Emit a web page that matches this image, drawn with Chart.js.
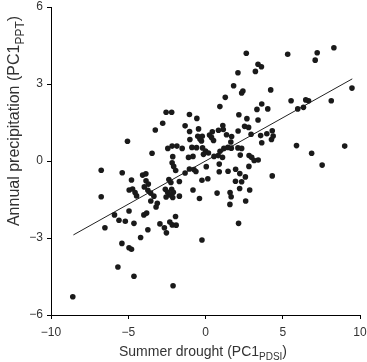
<!DOCTYPE html>
<html>
<head>
<meta charset="utf-8">
<script src="https://cdn.jsdelivr.net/npm/chart.js@4/dist/chart.umd.min.js"></script>
<style>
  body { margin: 0; background: #fff; }
  canvas { display: block; }
</style>
</head>
<body>
<canvas id="scatterChart" width="367" height="362"></canvas>
<script>
// Summer drought (PC1 PDSI) vs annual precipitation (PC1 PPT)
const drought = [
  2.64, 5.32, 7.23, 8.31, 7.10, 3.40, 3.62, 2.10, 3.23, 1.82,
  2.42, 2.34, 4.22, 1.28, 9.48, 0.93, 3.64, 5.54, 6.49, 6.67,
  8.14, 3.33, 4.03, 5.97, 6.34, -2.55, -2.19, -1.04, -0.56, 2.16,
  2.68, 3.40, -2.77, -1.32, -3.25, -1.03, -0.45, 0.44, 0.84, 1.12,
  1.15, 2.53, 2.79, 2.95, 2.11, 3.57, 3.97, 4.32, 4.38, 4.27,
  3.64, -0.50, -0.21, -0.36, -0.26, 0.26, 0.39, 0.52, 1.36, 1.69,
  1.64, -1.01, -5.05, 1.45, 1.67, 2.10, 2.34, -0.88, -0.58, -0.19,
  0.00, 0.19, -0.13, 0.94, 1.19, 0.55, 0.82, 1.10, -1.10, -0.81,
  0.89, 2.25, 2.82, 2.99, 3.15, 3.41, 2.81, 5.89, 6.87, 9.01,
  7.55, -2.44, -2.16, -1.85, -1.51, -3.46, -2.12, -1.32, -1.04, -0.75,
  -0.62, 0.05, 0.89, 1.46, 1.95, 2.22, 2.58, 4.32, -0.23, 0.15,
  1.94, 2.34, 2.21, 2.86, -0.81, 0.75, 1.59, 1.66, -0.39, 2.60,
  1.58, 2.14, -0.23, -2.16, -2.06, -1.93, -6.75, -5.39, -4.07, -3.86,
  -4.79, -3.85, -3.70, -2.37, -2.24, -1.69, -4.94, -4.72, -4.56, -4.46,
  -3.96, -3.73, -3.55, -3.34, -2.60, -2.45, -2.19, -2.08, -2.29, -2.12,
  -2.55, -1.69, -6.75, -3.54, -3.12, -3.20, -4.95, -5.89, -5.60, -5.19,
  -4.63, -3.99, -3.81, -6.51, -3.73, -2.95, -2.66, -2.53, -2.31, -2.15,
  -1.90, -1.94, -4.20, -5.41, -4.95, -4.79, -5.67, -4.63, -2.10, -8.59
];
const precip = [
  4.20, 4.16, 4.22, 4.41, 3.93, 3.77, 3.67, 3.44, 3.49, 2.93,
  2.73, 2.65, 2.77, 2.48, 2.84, 2.12, 2.22, 2.35, 2.38, 2.35,
  2.35, 2.01, 2.03, 2.03, 2.09, 1.90, 1.90, 1.81, 1.66, 1.80,
  1.65, 1.60, 1.47, 1.37, 1.21, 1.15, 1.25, 1.14, 1.20, 1.38,
  1.23, 1.35, 1.31, 1.04, 1.17, 0.99, 1.06, 1.18, 0.97, 0.84,
  0.71, 0.96, 0.96, 0.86, 0.78, 1.01, 0.92, 0.80, 1.02, 0.95,
  0.74, 0.84, 0.77, 0.53, 0.50, 0.51, 0.49, 0.53, 0.52, 0.51,
  0.39, 0.31, 0.26, 0.38, 0.49, 0.18, 0.21, 0.14, 0.14, 0.18,
  -0.12, 0.23, 0.21, 0.14, 0.02, 0.04, -0.21, 0.60, 0.30, 0.58,
  -0.16, 0.49, 0.58, 0.58, 0.49, 0.30, 0.17, -0.47, -0.31, -0.33,
  -0.41, -0.22, -0.42, -0.40, -0.32, -0.49, -0.62, -0.58, -0.75, -0.69,
  -0.79, -0.81, -1.07, -1.13, -1.13, -1.25, -1.23, -1.39, -1.46, -1.56,
  -1.69, -2.43, -3.08, -0.07, -0.21, -0.37, -0.36, -0.46, -0.55, -0.50,
  -0.74, -0.77, -0.90, -0.72, -0.84, -0.80, -1.13, -1.09, -1.23, -1.36,
  -1.01, -1.14, -1.25, -1.37, -1.10, -1.22, -1.10, -1.22, -1.32, -1.42,
  -1.40, -1.37, -1.39, -1.56, -1.65, -1.79, -1.95, -2.10, -2.31, -2.35,
  -2.43, -2.10, -2.03, -2.60, -2.68, -2.45, -2.60, -2.80, -2.38, -2.49,
  -2.50, -2.16, -2.98, -3.21, -3.38, -3.44, -4.13, -4.49, -4.86, -5.29
];

// fitted regression line end points
const fitX = [-8.55, 9.5];
const fitY = [-2.88, 3.2];

const xTicks = [-10, -5, 0, 5, 10];
const yTicks = [-6, -3, 0, 3, 6];

const points = drought.map((x, i) => ({ x: x, y: precip[i] }));
const fitLine = fitX.map((x, i) => ({ x: x, y: fitY[i] }));

const labelFont = '"Liberation Sans", Arial, Helvetica, sans-serif';

function minusSign(v) {
  return String(v).replace("-", "\u2212");
}

// draws "main(sub)rest" centred on cx with a lowered, smaller subscript
function drawSubText(ctx, main, sub, rest, cx, y, size) {
  const big = size + "px " + labelFont;
  const small = Math.round(size * 0.72) + "px " + labelFont;
  ctx.font = big;
  const wMain = ctx.measureText(main).width;
  const wRest = ctx.measureText(rest).width;
  ctx.font = small;
  const wSub = ctx.measureText(sub).width;
  let x = cx - (wMain + wSub + wRest) / 2;
  ctx.textAlign = "left";
  ctx.textBaseline = "alphabetic";
  ctx.font = big;
  ctx.fillText(main, x, y);
  x += wMain;
  ctx.font = small;
  ctx.fillText(sub, x, y + Math.round(size * 0.3));
  x += wSub;
  ctx.font = big;
  ctx.fillText(rest, x, y);
}

const axisTitles = {
  id: "axisTitles",
  afterDraw(chart) {
    const ctx = chart.ctx;
    ctx.save();
    ctx.fillStyle = "#333";
    drawSubText(ctx, "Summer drought (PC1", "PDSI", ")", 203, 356, 14);
    ctx.translate(19, 121);
    ctx.rotate(-Math.PI / 2);
    drawSubText(ctx, "Annual precipitation (PC1", "PPT", ")", 0, 0, 16);
    ctx.restore();
  }
};

new Chart(document.getElementById("scatterChart").getContext("2d"), {
  type: "scatter",
  data: {
    datasets: [
      {
        label: "Years",
        data: points,
        backgroundColor: "#1a1a1a",
        borderWidth: 0,
        pointRadius: 2.8,
        pointHoverRadius: 2.8
      },
      {
        type: "line",
        label: "Fit",
        data: fitLine,
        borderColor: "#222",
        borderWidth: 1,
        pointRadius: 0,
        fill: false
      }
    ]
  },
  options: {
    responsive: false,
    animation: false,
    layout: { padding: { top: 7, right: 7, bottom: 0, left: 0 } },
    plugins: {
      legend: { display: false },
      tooltip: { enabled: false }
    },
    scales: {
      x: {
        type: "linear",
        min: -10,
        max: 10,
        afterFit: (s) => {
          s.height = 47;
          s.paddingLeft = 0;
          s.paddingRight = 0;
        },
        afterBuildTicks: (s) => { s.ticks = xTicks.map((v) => ({ value: v })); },
        grid: { drawOnChartArea: false, drawTicks: true, tickLength: 4, color: "#000" },
        border: { display: true, color: "#000", width: 1 },
        ticks: {
          color: "#333",
          font: { family: labelFont, size: 12 },
          padding: 6,
          callback: minusSign
        }
      },
      y: {
        type: "linear",
        min: -6,
        max: 6,
        afterFit: (s) => {
          s.width = 51;
          s.paddingTop = 0;
          s.paddingBottom = 0;
        },
        afterBuildTicks: (s) => { s.ticks = yTicks.map((v) => ({ value: v })); },
        grid: { drawOnChartArea: false, drawTicks: true, tickLength: 4, color: "#000" },
        border: { display: true, color: "#000", width: 1 },
        ticks: {
          color: "#333",
          font: { family: labelFont, size: 12 },
          padding: 4,
          callback: minusSign
        }
      }
    }
  },
  plugins: [axisTitles]
});
</script>
</body>
</html>
